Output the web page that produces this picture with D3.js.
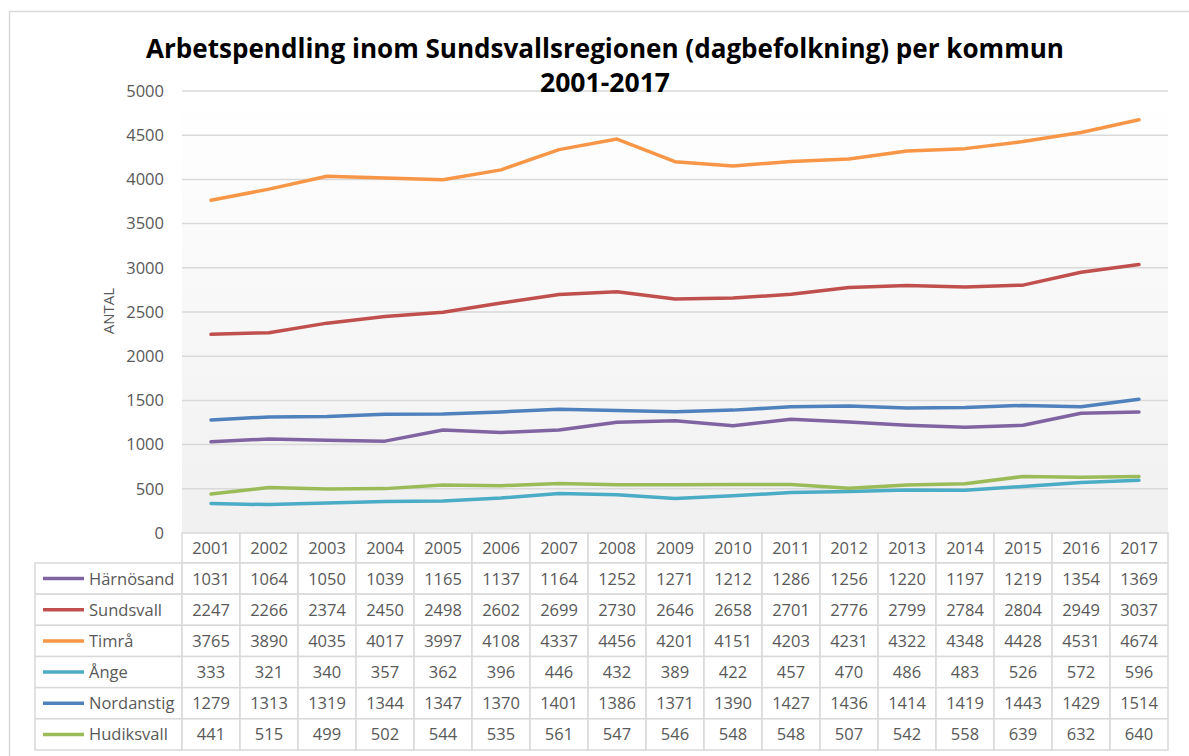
<!DOCTYPE html>
<html><head><meta charset="utf-8">
<script src="https://cdn.jsdelivr.net/npm/d3@7"></script>
<style>body{margin:0;background:#fff}svg{display:block}</style>
</head><body><svg id="c" width="1189" height="756"></svg>
<script>
const years = ["2001","2002","2003","2004","2005","2006","2007","2008","2009","2010","2011","2012","2013","2014","2015","2016","2017"];
const seriesNames = ["Härnösand","Sundsvall","Timrå","Ånge","Nordanstig","Hudiksvall"];
const harnosand = [1031,1064,1050,1039,1165,1137,1164,1252,1271,1212,1286,1256,1220,1197,1219,1354,1369];
const sundsvall = [2247,2266,2374,2450,2498,2602,2699,2730,2646,2658,2701,2776,2799,2784,2804,2949,3037];
const timra = [3765,3890,4035,4017,3997,4108,4337,4456,4201,4151,4203,4231,4322,4348,4428,4531,4674];
const ange = [333,321,340,357,362,396,446,432,389,422,457,470,486,483,526,572,596];
const nordanstig = [1279,1313,1319,1344,1347,1370,1401,1386,1371,1390,1427,1436,1414,1419,1443,1429,1514];
const hudiksvall = [441,515,499,502,544,535,561,547,546,548,548,507,542,558,639,632,640];
const yTicks = [0,500,1000,1500,2000,2500,3000,3500,4000,4500,5000];
const colors = ["#8064a2","#c0504d","#f79646","#4bacc6","#4f81bd","#9bbb59"];
const titleLine1 = "Arbetspendling inom Sundsvallsregionen (dagbefolkning) per kommun";
const titleLine2 = "2001-2017";
const yLabel = "ANTAL";

const data = [harnosand, sundsvall, timra, ange, nordanstig, hudiksvall];
const svg = d3.select("#c");
const font = "'Open Sans', 'Liberation Sans', sans-serif";
const textCol = "#595959", gridCol = "#d9d9d9";

const plotL = 182, plotR = 1168, plotT = 91, plotB = 533;
const tableL = 35, headerB = 563, tableB = 750;

// outer frame
svg.append("rect").attr("x",9.5).attr("y",11.5).attr("width",1200).attr("height",800)
  .attr("fill","#fff").attr("stroke",gridCol).attr("stroke-width",1.5);

const x = d3.scaleBand().domain(years).range([plotL, plotR]);
const y = d3.scaleLinear().domain([0,5000]).range([plotB, plotT]);

// plot background gradient
const defs = svg.append("defs");
const lg = defs.append("linearGradient").attr("id","bg").attr("x1",0).attr("y1",0).attr("x2",0).attr("y2",1);
lg.append("stop").attr("offset","0%").attr("stop-color","#ffffff");
lg.append("stop").attr("offset","100%").attr("stop-color","#f0f0f0");
svg.append("rect").attr("x",plotL).attr("y",plotT).attr("width",plotR-plotL).attr("height",plotB-plotT).attr("fill","url(#bg)");

// gridlines
svg.append("g").selectAll("line").data(yTicks.filter(d=>d>0)).join("line")
  .attr("x1",plotL).attr("x2",plotR).attr("y1",d=>y(d)).attr("y2",d=>y(d))
  .attr("stroke",gridCol).attr("stroke-width",1.5);

// y axis labels
const yAxis = d3.axisLeft(y).tickValues(yTicks).tickFormat(d3.format("d")).tickSize(0).tickPadding(18);
const gy = svg.append("g").attr("transform",`translate(${plotL},0)`).call(yAxis);
gy.select(".domain").remove();
gy.selectAll("text").attr("font-family",font).attr("font-size",16.5).attr("fill",textCol);

// y label
svg.append("text").attr("transform","translate(114,311) rotate(-90)").attr("text-anchor","middle")
  .attr("font-family",font).attr("font-size",15).attr("fill",textCol).text(yLabel);

// title
svg.append("text").attr("x",605).attr("y",58).attr("text-anchor","middle")
  .attr("font-family",font).attr("font-weight","bold").attr("font-size",26).attr("fill","#000")
  .attr("textLength",918).attr("lengthAdjust","spacingAndGlyphs").text(titleLine1);
svg.append("text").attr("x",605).attr("y",92).attr("text-anchor","middle")
  .attr("font-family",font).attr("font-weight","bold").attr("font-size",26).attr("fill","#000")
  .attr("textLength",130).attr("lengthAdjust","spacingAndGlyphs").text(titleLine2);

// lines
const line = d3.line().x((d,i)=>x(years[i])+x.bandwidth()/2).y(d=>y(d));
svg.append("g").selectAll("path").data(data).join("path")
  .attr("d",d=>line(d)).attr("fill","none").attr("stroke",(d,i)=>colors[i])
  .attr("stroke-width",3.5).attr("stroke-linejoin","round").attr("stroke-linecap","round");

// table
const rowH = (tableB-headerB)/seriesNames.length;
const tg = svg.append("g");
tg.selectAll(".hc").data(years).join("rect").attr("class","hc")
  .attr("x",d=>x(d)).attr("y",plotB).attr("width",x.bandwidth()).attr("height",headerB-plotB)
  .attr("fill","#fff").attr("stroke",gridCol).attr("stroke-width",1.5);
tg.selectAll(".ht").data(years).join("text").attr("class","ht")
  .attr("x",d=>x(d)+x.bandwidth()/2).attr("y",(plotB+headerB)/2+6).attr("text-anchor","middle")
  .attr("font-family",font).attr("font-size",16.5).attr("fill",textCol).text(d=>d);

seriesNames.forEach((name, r) => {
  const top = headerB + r*rowH;
  tg.append("rect").attr("x",tableL).attr("y",top).attr("width",plotL-tableL).attr("height",rowH)
    .attr("fill","#fff").attr("stroke",gridCol).attr("stroke-width",1.5);
  tg.append("line").attr("x1",43).attr("x2",84).attr("y1",top+rowH/2).attr("y2",top+rowH/2)
    .attr("stroke",colors[r]).attr("stroke-width",3.5);
  tg.append("text").attr("x",89).attr("y",top+rowH/2+6)
    .attr("font-family",font).attr("font-size",16.5).attr("fill",textCol).text(name);
  tg.selectAll(".c"+r).data(data[r]).join("rect").attr("class","c"+r)
    .attr("x",(d,i)=>x(years[i])).attr("y",top).attr("width",x.bandwidth()).attr("height",rowH)
    .attr("fill","#fff").attr("stroke",gridCol).attr("stroke-width",1.5);
  tg.selectAll(".t"+r).data(data[r]).join("text").attr("class","t"+r)
    .attr("x",(d,i)=>x(years[i])+x.bandwidth()/2).attr("y",top+rowH/2+6).attr("text-anchor","middle")
    .attr("font-family",font).attr("font-size",16.5).attr("fill",textCol).text(d=>d);
});
</script></body></html>
